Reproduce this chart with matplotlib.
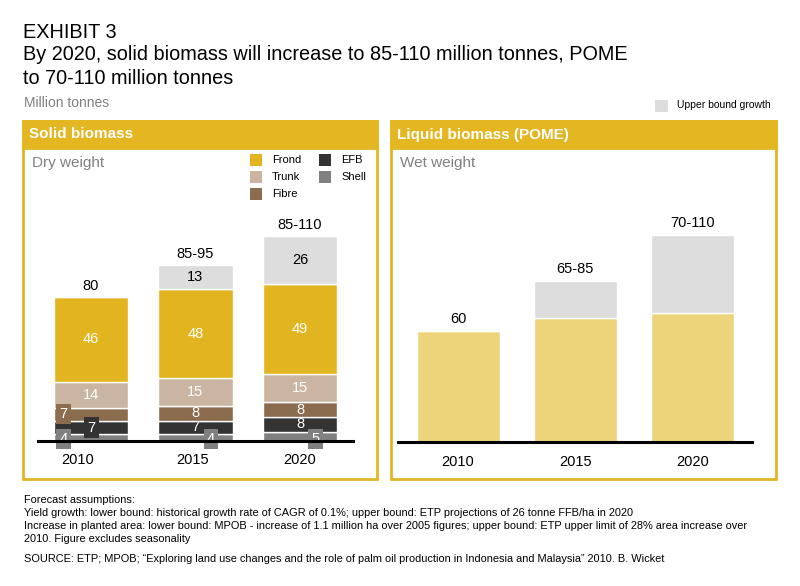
import numpy as np
import matplotlib
matplotlib.use('Agg')
from matplotlib import pyplot as plt
from matplotlib.patches import Rectangle
from matplotlib.transforms import ScaledTranslation

# data
years = ['2010', '2015', '2020']
shell = [4, 4, 5]
efb = [7, 7, 8]
fibre = [7, 8, 8]
trunk = [14, 15, 15]
frond = [46, 48, 49]
solid_upper = [0, 13, 26]
solid_totals = ['80', '85-95', '85-110']

pome_base = [60, 67, 70]
pome_upper = [0, 20, 42]
pome_totals = ['60', '65-85', '70-110']

# colours
c_frond = '#E2B520'
c_trunk = '#C9B5A1'
c_fibre = '#8C6C4F'
c_efb = '#333333'
c_shell = '#808080'
c_upper = '#DDDDDD'
c_pome = '#EDD47B'
c_head = '#E3B622'
c_gray = '#808080'

W, H = 800, 586
plt.rcParams['font.family'] = ['Liberation Sans', 'DejaVu Sans']

fig = plt.figure(figsize=(8, 5.86), dpi=100)

def fx(x):
    return x / W

def fy(y):
    return 1 - y / H

def ftext(x, y, s, **kw):
    fig.text(fx(x), fy(y), s, **kw)

# titles
ftext(23, 32, 'EXHIBIT 3', fontsize=14.3, va='center')
ftext(23, 55, 'By 2020, solid biomass will increase to 85-110 million tonnes, POME', fontsize=14.3, va='center')
ftext(23, 78, 'to 70-110 million tonnes', fontsize=14.3, va='center')
ftext(24, 103, 'Million tonnes', fontsize=10, color=c_gray, va='center')
fig.patches.append(Rectangle((fx(655), fy(112)), 13/W, 12/H, transform=fig.transFigure,
                             facecolor=c_upper, edgecolor='none'))
ftext(677, 105.5, 'Upper bound growth', fontsize=7.5, va='center')

# panel frames
for x0, x1, title in [(23, 377, 'Solid biomass'), (391, 776, 'Liquid biomass (POME)')]:
    fig.patches.append(Rectangle((fx(x0), fy(479)), (x1 - x0) / W, (479 - 121) / H,
                                 transform=fig.transFigure, facecolor='none',
                                 edgecolor=c_head, linewidth=2))
    fig.patches.append(Rectangle((fx(x0), fy(148)), (x1 - x0) / W, (148 - 121) / H,
                                 transform=fig.transFigure, facecolor=c_head,
                                 edgecolor=c_head, linewidth=2))
    ftext(x0 + 6, 134.5, title, fontsize=11, fontweight='bold', color='white', va='center')

ftext(32, 163, 'Dry weight', fontsize=11, color=c_gray, va='center')
ftext(400, 163, 'Wet weight', fontsize=11, color=c_gray, va='center')

# legend in the solid panel
leg = [(250, 160, c_frond, 'Frond'), (250, 177, c_trunk, 'Trunk'), (250, 194, c_fibre, 'Fibre'),
       (319, 160, c_efb, 'EFB'), (319, 177, c_shell, 'Shell')]
for lx, ly, col, name in leg:
    fig.patches.append(Rectangle((fx(lx), fy(ly + 6)), 12 / W, 12 / H, transform=fig.transFigure,
                                 facecolor=col, edgecolor='none'))
    ftext(lx + 22, ly, name, fontsize=8, va='center')

scale = 1.85  # px per million tonnes
x = np.arange(3)

# ---- solid biomass
ax = fig.add_axes([fx(38), fy(441), 315 / W, 291 / H])
ax.set_xlim(-0.507, 2.507)
ax.set_ylim(0, 291 / scale)
bw = 0.71
bottom = np.zeros(3)
for vals, col in [(shell, c_shell), (efb, c_efb), (fibre, c_fibre), (trunk, c_trunk),
                  (frond, c_frond), (solid_upper, c_upper)]:
    ax.bar(x, vals, bw, bottom=bottom, color=col, edgecolor='white', linewidth=1)
    bottom = bottom + np.array(vals)

lab = dict(fontsize=10.5, ha='center', va='center')
for i in range(3):
    b0 = shell[i] + efb[i] + fibre[i]
    ax.text(i, b0 + trunk[i] / 2, str(trunk[i]), color='white', **lab)
    ax.text(i, b0 + trunk[i] + frond[i] / 2, str(frond[i]), color='white', **lab)
    base = b0 + trunk[i] + frond[i]
    if solid_upper[i] > 0:
        ax.text(i, base + solid_upper[i] / 2, str(solid_upper[i]), color='black', **lab)
    ax.text(i, base + solid_upper[i] + 6, solid_totals[i], color='black', **lab)

# small segment labels
box = lambda c: dict(boxstyle='square,pad=0.22', facecolor=c, edgecolor='none')
ax.text(-0.265, shell[0] + efb[0] + fibre[0] / 2, str(fibre[0]), color='white', bbox=box(c_fibre), **lab)
ax.text(0.005, shell[0] + efb[0] / 2 - 0.3, str(efb[0]), color='white', bbox=box(c_efb), **lab)
ax.text(-0.265, 1.0, str(shell[0]), color='white', bbox=box(c_shell), clip_on=False, **lab)
for i in [1, 2]:
    ax.text(i, shell[i] + efb[i] / 2, str(efb[i]), color='white', **lab)
    ax.text(i, shell[i] + efb[i] + fibre[i] / 2, str(fibre[i]), color='white', **lab)
    ax.text(i + 0.15, 1.0, str(shell[i]), color='white', bbox=box(c_shell), clip_on=False, **lab)

# ---- liquid biomass
ax2 = fig.add_axes([fx(398), fy(442), 354 / W, 292 / H])
ax2.set_xlim(-0.513, 2.51)
ax2.set_ylim(0, 292 / scale)
ax2.bar(x, pome_base, bw, color=c_pome, edgecolor='white', linewidth=1)
ax2.bar(x, pome_upper, bw, bottom=pome_base, color=c_upper, edgecolor='white', linewidth=1)
for i in range(3):
    ax2.text(i, pome_base[i] + pome_upper[i] + 6.5, pome_totals[i], color='black', **lab)

for a in [ax, ax2]:
    for s in ['top', 'right', 'left']:
        a.spines[s].set_visible(False)
    a.spines['bottom'].set_linewidth(2.2)
    a.spines['bottom'].set_zorder(5)
    a.set_yticks([])
    a.set_xticks(x)
    a.set_xticklabels(years, fontsize=10.5)
    a.tick_params(axis='x', length=0, pad=9)
    a.patch.set_alpha(0)

# the 2010 label in the solid panel sits a little left of its bar
shifts = [-0.13, -0.03, 0]
for t, s in zip(ax.get_xticklabels(), shifts):
    t.set_transform(t.get_transform() + ScaledTranslation(s, 0, fig.dpi_scale_trans))

# footnotes
notes = ['Forecast assumptions:',
         'Yield growth: lower bound: historical growth rate of CAGR of 0.1%; upper bound: ETP projections of 26 tonne FFB/ha in 2020',
         'Increase in planted area: lower bound: MPOB - increase of 1.1 million ha over 2005 figures; upper bound: ETP upper limit of 28% area increase over',
         '2010. Figure excludes seasonality']
for k, n in enumerate(notes):
    ftext(24, 500 + k * 13, n, fontsize=7.9, va='center')
ftext(24, 559, 'SOURCE: ETP; MPOB; \u201cExploring land use changes and the role of palm oil production in Indonesia and Malaysia\u201d 2010. B. Wicket',
      fontsize=7.9, va='center')

fig.savefig('out.png', dpi=100)
